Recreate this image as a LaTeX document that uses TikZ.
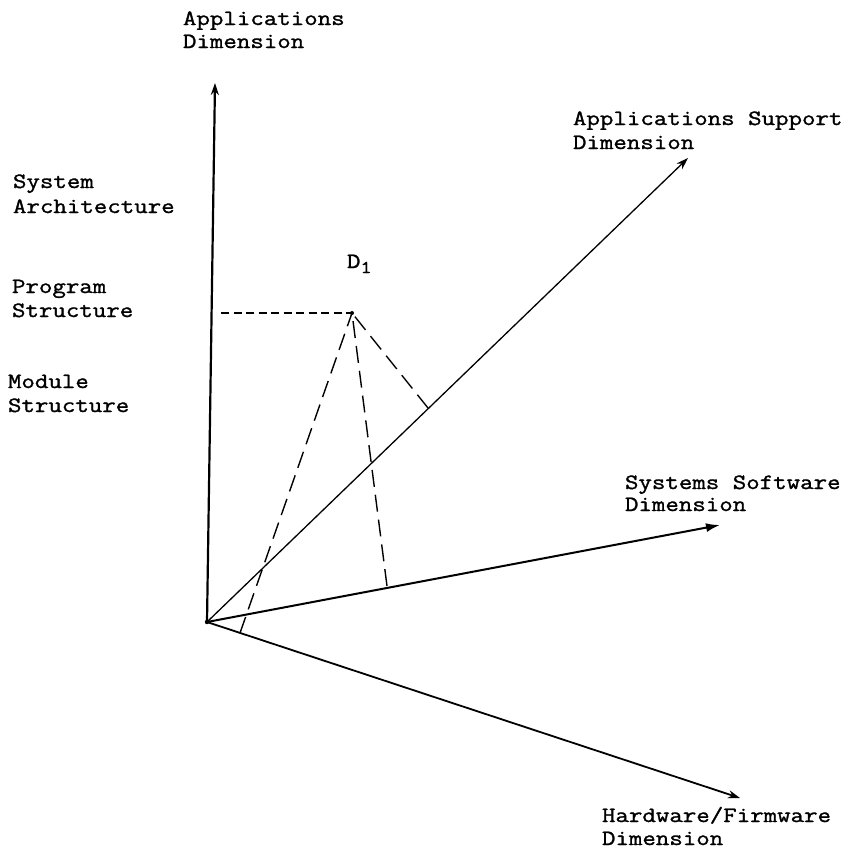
\documentclass[tikz,border=0pt]{standalone}
\usepackage{fontspec}
\setmonofont{Latin Modern Mono}[FakeStretch=1.2, FakeBold=1.3]
\usetikzlibrary{arrows.meta}

\tikzset{
  lbl/.style={anchor=base west, inner sep=0pt, outer sep=0pt,
              font=\ttfamily\fontsize{21.8}{24}\selectfont},
  axisline/.style={line width=2pt, line cap=round, -{Stealth[length=12pt,width=8pt]}},
  thinaxis/.style={line width=1.3pt, line cap=round, -{Stealth[length=12pt,width=8pt]}},
  proj/.style={line width=1.4pt, dash pattern=on 17pt off 8pt},
  projshort/.style={line width=1.4pt, dash pattern=on 8pt off 4.5pt},
}

\begin{document}
\begin{tikzpicture}[x=1pt, y=-1pt]
  \useasboundingbox (0,0) rectangle (851,852);

  % origin, axis ends and the point D1
  \coordinate (O)   at (207,622);
  \coordinate (appT) at (215,83);
  \coordinate (supT) at (688,158);
  \coordinate (sysT) at (720,525);
  \coordinate (hwT)  at (740,798);
  \coordinate (D)    at (352,313);

  % feet of the projections of D1
  \coordinate (fApp) at (221,313);
  \coordinate (fSup) at (428,408);
  \coordinate (fSys) at (387,586);
  \coordinate (fHw)  at (240,633);

  % axes
  \draw[axisline, line width=2.2pt] (O) -- (appT);
  \draw[thinaxis] (O) -- (supT);
  \draw[axisline, -{Latex[length=14pt,width=9pt]}] (O) -- (sysT);
  \draw[axisline, line width=1.8pt] (O) -- (hwT);
  \fill (O) circle (2.2pt);

  % projections
  \draw[projshort] (fApp) -- (D);
  \draw[proj] (fSup) -- (D);
  \draw[proj] (fSys) -- (D);
  \draw[proj] (fHw) -- (D);
  \fill (D) circle (2pt);

  % point label
  \node[lbl] (dlabel) at (347,268) {D\raisebox{-5pt}{\fontsize{18}{18}\selectfont 1}};

  % axis labels
  \node[lbl] (app1) at (183,25)  {Applications};
  \node[lbl] (app2) at (183,48)  {Dimension};
  \node[lbl] (sup1) at (573,125) {Applications Support};
  \node[lbl] (sup2) at (573,149) {Dimension};
  \node[lbl] (sys1) at (625,489) {Systems Software};
  \node[lbl] (sys2) at (625,511) {Dimension};
  \node[lbl] (hw1)  at (602,822) {Hardware/Firmware};
  \node[lbl] (hw2)  at (602,845) {Dimension};

  % levels along the applications axis
  \node[lbl] (lv1a) at (13,188) {System};
  \node[lbl] (lv1b) at (13,213) {Architecture};
  \node[lbl] (lv2a) at (12,293) {Program};
  \node[lbl] (lv2b) at (12,317) {Structure};
  \node[lbl] (lv3a) at (8,388)  {Module};
  \node[lbl] (lv3b) at (8,412)  {Structure};
\end{tikzpicture}
\end{document}
